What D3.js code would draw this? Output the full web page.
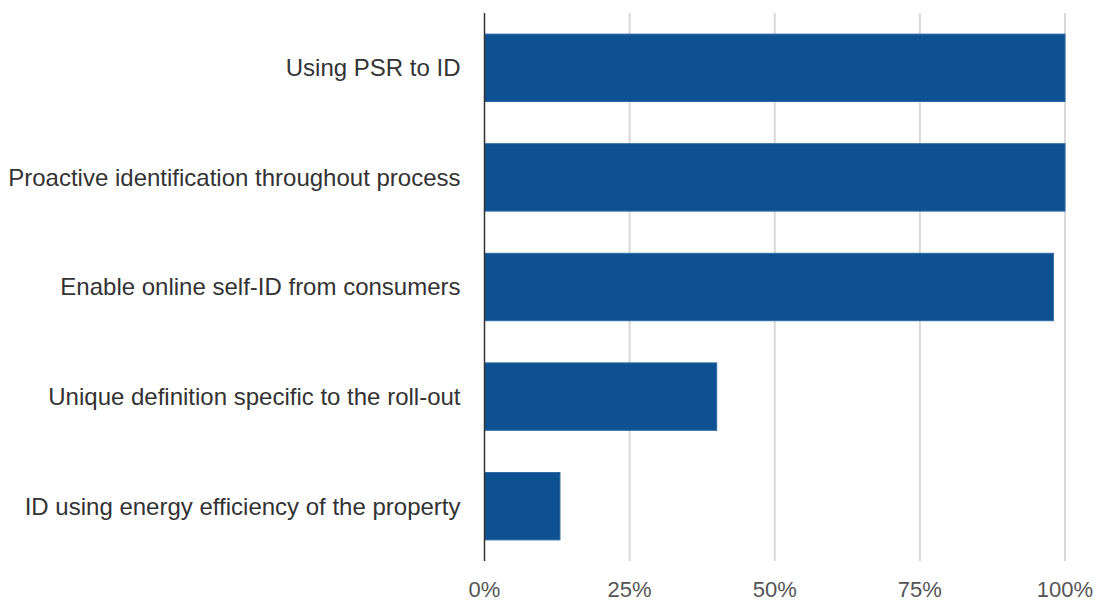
<!DOCTYPE html>
<meta charset="utf-8">
<style>
body { margin: 0; background: #fff; }
text { font-family: "Liberation Sans", Arial, sans-serif; }
.grid line { stroke: #d9d9d9; stroke-width: 2px; }
.bar { fill: #0e5192; stroke: #2e6aa4; stroke-width: 1px; }
</style>
<body>
<script src="https://cdn.jsdelivr.net/npm/d3@7"></script>
<script>

// categories, top to bottom
var categories = ["Using PSR to ID",
                  "Proactive identification throughout process",
                  "Enable online self-ID from consumers",
                  "Unique definition specific to the roll-out",
                  "ID using energy efficiency of the property"];

// share of respondents, percent
var values = [100, 100, 98, 40, 13];

var ticks = [0, 25, 50, 75, 100];

var width = 1099,
    height = 603,
    plotLeft = 484.5,
    plotRight = 1065,
    plotTop = 13,
    plotBottom = 561;

var svg = d3.select("body").append("svg")
    .attr("width", width)
    .attr("height", height);

var x = d3.scaleLinear().domain([0, 100]).range([plotLeft, plotRight]);

var y = d3.scaleBand()
    .domain(categories)
    .range([plotTop, plotBottom])
    .paddingInner(0.385)
    .paddingOuter(0.1925);

// vertical gridlines
svg.append("g")
    .attr("class", "grid")
    .selectAll("line")
    .data(ticks.slice(1))
    .enter().append("line")
      .attr("x1", function(d) { return x(d); })
      .attr("x2", function(d) { return x(d); })
      .attr("y1", plotTop)
      .attr("y2", plotBottom);

svg.append("g").selectAll("rect")
    .data(values)
    .enter().append("rect")
      .attr("class", "bar")
      .attr("x", x(0))
      .attr("y", function(d, i) { return y(categories[i]); })
      .attr("width", function(d) { return x(d) - x(0); })
      .attr("height", y.bandwidth());

// axis line at 0
svg.append("line")
    .attr("x1", x(0)).attr("x2", x(0))
    .attr("y1", plotTop).attr("y2", plotBottom)
    .attr("stroke", "#333")
    .attr("stroke-width", 1.5);

// category labels
svg.append("g").selectAll("text")
    .data(categories)
    .enter().append("text")
      .attr("x", x(0) - 24)
      .attr("y", function(d) { return y(d) + y.bandwidth() / 2; })
      .attr("dy", "0.35em")
      .attr("text-anchor", "end")
      .attr("fill", "#333")
      .style("font-size", "24px")
      .text(function(d) { return d; });

// tick labels
svg.append("g").selectAll("text")
    .data(ticks)
    .enter().append("text")
      .attr("x", function(d) { return x(d); })
      .attr("y", 589)
      .attr("dy", "0.35em")
      .attr("text-anchor", "middle")
      .attr("fill", "#555")
      .style("font-size", "22px")
      .text(function(d) { return d + "%"; });

</script>
